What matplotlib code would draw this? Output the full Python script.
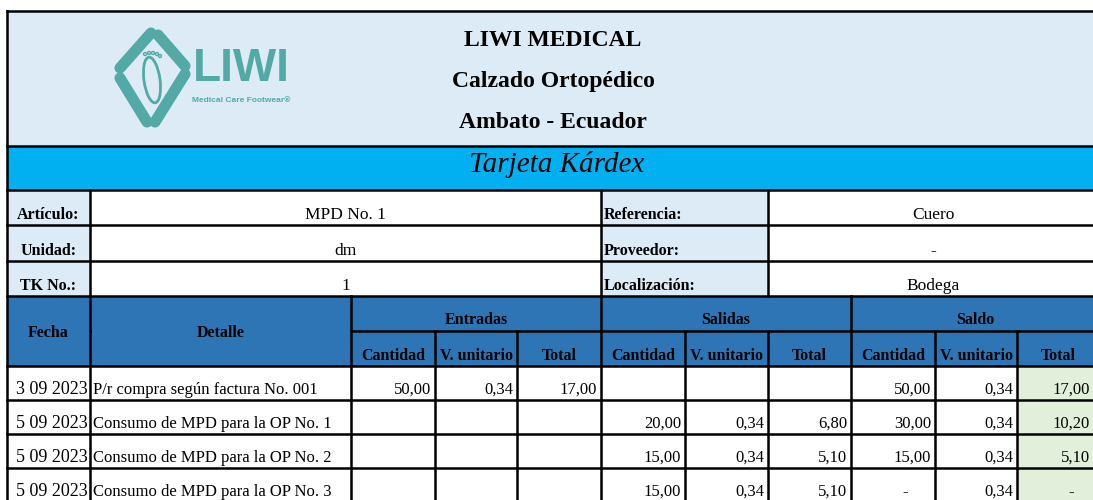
import matplotlib.pyplot as plt
from matplotlib.patches import Rectangle, Ellipse, Circle

# contenido de la tarjeta
empresa = ["LIWI MEDICAL", "Calzado Ortopédico", "Ambato - Ecuador"]
titulo = "Tarjeta Kárdex"
info_izq = [("Artículo:", "MPD No. 1"), ("Unidad:", "dm"), ("TK No.:", "1")]
info_der = [("Referencia:", "Cuero"), ("Proveedor:", "-"), ("Localización:", "Bodega")]
grupos = ["Entradas", "Salidas", "Saldo"]
subcols = ["Cantidad", "V. unitario", "Total"]

fechas = ["3 09 2023", "5 09 2023", "5 09 2023", "5 09 2023"]
detalles = ["P/r compra según factura No. 001",
            "Consumo de MPD para la OP No. 1",
            "Consumo de MPD para la OP No. 2",
            "Consumo de MPD para la OP No. 3"]
ent_cant = [50.00, None, None, None]
ent_vu = [0.34, None, None, None]
ent_total = [17.00, None, None, None]
sal_cant = [None, 20.00, 15.00, 15.00]
sal_vu = [None, 0.34, 0.34, 0.34]
sal_total = [None, 6.80, 5.10, 5.10]
sdo_cant = [50.00, 30.00, 15.00, 0.0]
sdo_vu = [0.34, 0.34, 0.34, 0.34]
sdo_total = [17.00, 10.20, 5.10, 0.0]

# colores (excel)
c_light = '#DDEBF7'
c_cyan = '#00B0F0'
c_blue = '#2E75B6'
c_green = '#E2EFDA'
c_teal = '#52A9A5'

SERIF = 'Liberation Serif'
W, H = 1093, 500

# bordes de columnas y filas en pixeles
col_x = [7, 90, 351, 435, 517, 601, 685, 768, 851, 935, 1017, 1094]
top, head_bot, cyan_bot = 11, 146, 190
info_y = [190, 225, 261, 296]
thead_y = [296, 331, 366]
data_y = [366, 400, 434, 468, 502]
LW = 1.8


def fmt(v):
    if v is None:
        return ""
    if v == 0:
        return "-"
    return f"{v:.2f}".replace('.', ',')


fig = plt.figure(figsize=(W / 100, H / 100), dpi=100)
ax = fig.add_axes([0, 0, 1, 1])
ax.set_xlim(0, W)
ax.set_ylim(H, 0)
ax.axis('off')

right = col_x[-1]
right_fill = 1100


def rect(x0, y0, x1, y1, color):
    ax.add_patch(Rectangle((x0, y0), x1 - x0, y1 - y0, facecolor=color, edgecolor='none', zorder=0))


def hline(y, x0, x1):
    ax.plot([x0, x1], [y, y], color='black', lw=LW, solid_capstyle='projecting', zorder=3)


def vline(x, y0, y1):
    ax.plot([x, x], [y0, y1], color='black', lw=LW, solid_capstyle='projecting', zorder=3)


# encabezado
rect(col_x[0], top, right_fill, head_bot, c_light)
rect(col_x[0], head_bot, right_fill, cyan_bot, c_cyan)
for i, t in enumerate(empresa):
    ax.text(553, 41 + i * 41, t, ha='center', va='center', family=SERIF,
            weight='bold', fontsize=17)
ax.text(557, 165, titulo, ha='center', va='center', family=SERIF,
        style='italic', fontsize=21)

# logo
ax.plot([120, 151], [68, 33], color=c_teal, lw=8, solid_capstyle='round')
ax.plot([158, 185], [35, 66], color=c_teal, lw=8, solid_capstyle='round')
ax.plot([185, 155], [74, 122], color=c_teal, lw=8, solid_capstyle='round')
ax.plot([147, 120], [122, 78], color=c_teal, lw=8, solid_capstyle='round')
ax.add_patch(Ellipse((152, 80), 16, 46, angle=-8, facecolor='none', edgecolor=c_teal, lw=2))
for tx, ty in [(145, 54), (149, 53), (153, 53), (157, 54), (160, 56)]:
    ax.add_patch(Circle((tx, ty), 1.5, facecolor='none', edgecolor=c_teal, lw=1))
ax.text(241, 69, "LIWI", ha='center', va='center', family='Liberation Sans',
        weight='bold', fontsize=33, color=c_teal)
ax.text(241, 100, "Medical Care Footwear®", ha='center', va='center',
        family='Liberation Sans', weight='bold', fontsize=6, color=c_teal)

# filas de informacion
for i in range(3):
    y0, y1 = info_y[i], info_y[i + 1]
    base = y1 - 6
    rect(col_x[0], y0, col_x[1], y1, c_light)
    rect(col_x[5], y0, col_x[7], y1, c_light)
    lab, val = info_izq[i]
    ax.text((col_x[0] + col_x[1]) / 2, base, lab, ha='center', va='baseline',
            family=SERIF, weight='bold', fontsize=11.5)
    ax.text((col_x[1] + col_x[5]) / 2, base, val, ha='center', va='baseline',
            family=SERIF, fontsize=12.5)
    lab, val = info_der[i]
    ax.text(col_x[5] + 3, base, lab, ha='left', va='baseline',
            family=SERIF, weight='bold', fontsize=11.5)
    ax.text(933, base, val, ha='center', va='baseline',
            family=SERIF, fontsize=12.5)

# cabecera de la tabla
rect(col_x[0], thead_y[0], right_fill, thead_y[2], c_blue)
ax.text((col_x[0] + col_x[1]) / 2, 337, "Fecha", ha='center', va='baseline',
        family=SERIF, weight='bold', fontsize=11.5)
ax.text((col_x[1] + col_x[2]) / 2, 337, "Detalle", ha='center', va='baseline',
        family=SERIF, weight='bold', fontsize=11.5)
for g, name in enumerate(grupos):
    xa, xb = col_x[2 + 3 * g], col_x[5 + 3 * g]
    xb = 1100 if g == 2 else xb
    ax.text((xa + xb) / 2, thead_y[1] - 7, name, ha='center', va='baseline',
            family=SERIF, weight='bold', fontsize=11.5)
    for j, sc in enumerate(subcols):
        xr = col_x[3 + 3 * g + j]
        xr = 1100 if (g == 2 and j == 2) else xr
        xc = (col_x[2 + 3 * g + j] + xr) / 2
        ax.text(xc, thead_y[2] - 6, sc, ha='center', va='baseline',
                family=SERIF, weight='bold', fontsize=11.5)

# datos
cols = [ent_cant, ent_vu, ent_total, sal_cant, sal_vu, sal_total,
        sdo_cant, sdo_vu, sdo_total]
for r in range(len(fechas)):
    y0, y1 = data_y[r], data_y[r + 1]
    base = y1 - 6
    rect(col_x[10], y0, right_fill, y1, c_green)
    ax.text(col_x[1] - 2, base, fechas[r], ha='right', va='baseline',
            family=SERIF, fontsize=13)
    ax.text(col_x[1] + 3, base, detalles[r], ha='left', va='baseline',
            family=SERIF, fontsize=12)
    for c, serie in enumerate(cols):
        s = fmt(serie[r])
        pad = 27 if s == "-" else 4
        if c == 8 and s == "-":
            pad = 20
        ax.text(col_x[3 + c] - pad, base, s, ha='right', va='baseline',
                family=SERIF, fontsize=12)

# bordes
hline(top, col_x[0], right_fill)
hline(head_bot, col_x[0], right_fill)
hline(cyan_bot, col_x[0], right_fill)
for y in info_y[1:]:
    hline(y, col_x[0], right_fill)
hline(thead_y[1], col_x[2], right_fill)
for y in thead_y[2:] + data_y[1:]:
    hline(y, col_x[0], right_fill)
vline(col_x[0], top, H)
for x in (col_x[1], col_x[5], col_x[7]):
    vline(x, info_y[0], info_y[-1])
for x in (col_x[1], col_x[2], col_x[5], col_x[8]):
    vline(x, thead_y[0], thead_y[1])
for x in col_x[1:-1]:
    vline(x, thead_y[1], H)

fig.savefig('out.png', dpi=100)
